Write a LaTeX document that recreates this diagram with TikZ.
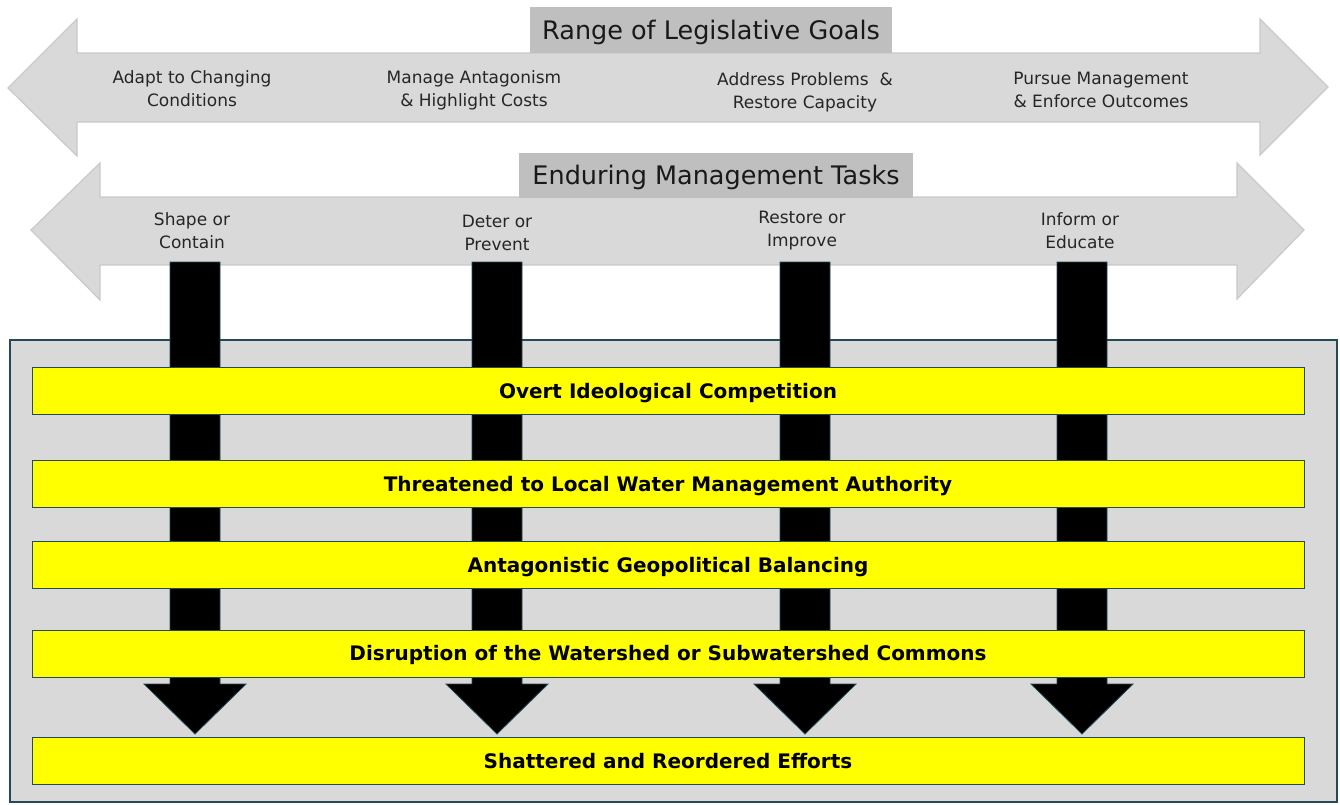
\documentclass[tikz,border=0pt]{standalone}
\usepackage{fontspec}
\setmainfont{DejaVu Sans}
\definecolor{arrowgray}{HTML}{D9D9D9}
\definecolor{arrowedge}{HTML}{C9C9C9}
\definecolor{titlegray}{HTML}{BFBFBF}
\definecolor{tealedge}{HTML}{24495A}
\definecolor{baryellow}{HTML}{FFFF00}
\tikzset{
  bigarrow/.style={fill=arrowgray, draw=arrowedge, line width=1.2pt},
  titlebox/.style={fill=titlegray, draw=none, inner sep=0pt, text height=18.5pt, text depth=0pt, font=\fontsize{25.5}{30}\selectfont, text=black!90},
  goal/.style={align=center, font=\fontsize{17}{23}\selectfont, text=black!85, inner sep=0pt},
  task/.style={align=center, font=\fontsize{17}{23}\selectfont, text=black!85, inner sep=0pt},
  blockarrow/.style={fill=black, draw=tealedge, line width=0.8pt},
  bar/.style={fill=baryellow, draw=tealedge, line width=1pt, minimum width=1272pt, minimum height=47pt, inner sep=0pt, text height=14.6pt, text depth=0pt, font=\bfseries\fontsize{20}{22}\selectfont},
}
\begin{document}
\begin{tikzpicture}[x=1pt,y=-1pt]
\useasboundingbox (0,0) rectangle (1340,804);
% top double arrow
\draw[bigarrow] (8,88) -- (77,19) -- (77,53) -- (1260,53) -- (1260,19) -- (1328,87) -- (1260,155) -- (1260,122) -- (77,122) -- (77,156) -- cycle;
\node[titlebox, minimum width=362pt, minimum height=46pt] (rangetitle) at (711,30) {Range of Legislative Goals};
% second double arrow
\draw[bigarrow] (31,230) -- (100,163) -- (100,197) -- (1237,197) -- (1237,163) -- (1304,230) -- (1237,299) -- (1237,265) -- (100,265) -- (100,300) -- cycle;
\node[titlebox, minimum width=394pt, minimum height=45pt] (tasktitle) at (716,175) {Enduring Management Tasks};
% goals
\node[goal] (g1) at (192,89) {Adapt to Changing\\Conditions};
\node[goal] (g2) at (474,90) {Manage Antagonism\\\& Highlight Costs};
\node[goal] (g3) at (805,92) {Address Problems~~\&\\Restore Capacity};
\node[goal] (g4) at (1101,90) {Pursue Management\\\& Enforce Outcomes};
% tasks
\node[task] (t1) at (192,231) {Shape or\\Contain};
\node[task] (t2) at (497,233) {Deter or\\Prevent};
\node[task] (t3) at (802,231) {Restore or\\Improve};
\node[task] (t4) at (1080,231) {Inform or\\Educate};
% big box
\draw[fill=arrowgray, draw=tealedge, line width=1.2pt] (10,340) rectangle (1337,802);
% black block arrows
\foreach \cx/\nm in {195/a1,497/a2,805/a3,1082/a4}{
  \coordinate (\nm top) at (\cx,262);
  \coordinate (\nm tip) at (\cx,734);
  \draw[blockarrow] (\cx-25,262) -- (\cx+25,262) -- (\cx+25,684) -- (\cx+51,684) -- (\nm tip) -- (\cx-51,684) -- (\cx-25,684) -- cycle;
}
% bars
\node[bar] (b1) at (668,391) {Overt Ideological Competition};
\node[bar] (b2) at (668,484) {Threatened to Local Water Management Authority};
\node[bar] (b3) at (668,565) {Antagonistic Geopolitical Balancing};
\node[bar] (b4) at (668,653.5) {Disruption of the Watershed or Subwatershed Commons};
\node[bar] (b5) at (668,761) {Shattered and Reordered Efforts};
\end{tikzpicture}
\end{document}
